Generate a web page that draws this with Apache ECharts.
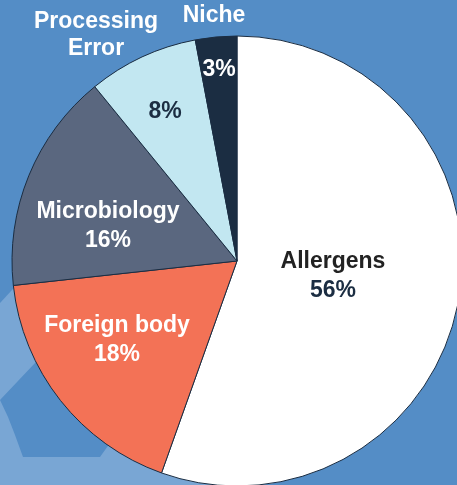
<!DOCTYPE html>
<html>
<head>
<meta charset="utf-8">
<script src="https://cdn.jsdelivr.net/npm/echarts@6/dist/echarts.min.js"></script>
<style>
  html, body { margin: 0; padding: 0; background: #548dc6; }
  #chart { width: 457px; height: 485px; }
</style>
</head>
<body>
<div id="chart"></div>
<script>
  // 数据
  var categories = ['Allergens', 'Foreign body', 'Microbiology', 'Processing Error', 'Niche'];
  var values = [56, 18, 16, 8, 3];
  var colors = ['#ffffff', '#f37256', '#5a677f', '#c2e7f1', '#1b2d42'];
  var textColors = ['#1b2d42', '#ffffff', '#ffffff', '#1b2d42', '#ffffff'];
  // 名称放在扇区外的类别
  var outsideNames = ['Processing Error', 'Niche'];

  // 标签位置（像素）
  var insidePos = [[333, 276], [117, 340], [108, 226], [165, 112], [219, 70]];
  var outsidePos = {'Processing Error': [96, 35], 'Niche': [214, 16]};

  var insideData = categories.map(function (c, i) {
    var pct = values[i] + '%';
    return {
      name: c,
      value: values[i],
      itemStyle: {color: colors[i]},
      label: {
        color: textColors[i],
        formatter: outsideNames.indexOf(c) >= 0 ? pct : (c === 'Allergens' ? '{n|' + c + '}\n' + pct : c + '\n' + pct),
        rich: {n: {color: '#222222', fontSize: 23, fontWeight: 'bold', lineHeight: 29, fontFamily: 'Liberation Sans'}}
      }
    };
  });

  var outsideData = categories.map(function (c, i) {
    return {
      name: c,
      value: values[i],
      label: {show: outsideNames.indexOf(c) >= 0}
    };
  });

  var chart = echarts.init(document.getElementById('chart'));
  var option = {
    backgroundColor: '#548dc6',
    animation: false,
    // 左下角背景装饰
    graphic: [
      {
        type: 'polygon', z: -10, silent: true,
        shape: {points: [[0, 303], [95, 200], [240, 300], [262, 485], [0, 485]]},
        style: {fill: '#79a6d4'}
      },
      {
        type: 'polygon', z: -9, silent: true,
        shape: {points: [[0, 400], [35, 363], [90, 305], [140, 330], [110, 443], [100, 457], [23, 457], [15, 435], [8, 417]]},
        style: {fill: '#548dc6'}
      }
    ],
    series: [
      {
        type: 'pie',
        center: [237, 261],
        radius: 225,
        startAngle: 90,
        clockwise: true,
        data: insideData,
        itemStyle: {borderColor: '#1b2d42', borderWidth: 1},
        label: {
          show: true,
          position: 'inside',
          fontSize: 23,
          fontWeight: 'bold',
          lineHeight: 29,
          fontFamily: 'Liberation Sans',
          align: 'center',
          verticalAlign: 'middle'
        },
        labelLine: {show: false},
        labelLayout: function (p) {
          var pos = insidePos[p.dataIndex];
          return {x: pos[0], y: pos[1], align: 'center', verticalAlign: 'middle'};
        },
        emphasis: {disabled: true}
      },
      {
        type: 'pie',
        center: [237, 261],
        radius: 225,
        startAngle: 90,
        clockwise: true,
        silent: true,
        data: outsideData,
        itemStyle: {color: 'rgba(0,0,0,0)'},
        label: {
          position: 'inside',
          formatter: function (p) { return p.name.replace(' ', '\n'); },
          color: '#ffffff',
          fontSize: 23,
          fontWeight: 'bold',
          lineHeight: 27,
          fontFamily: 'Liberation Sans'
        },
        labelLine: {show: false},
        labelLayout: function (p) {
          var pos = outsidePos[categories[p.dataIndex]] || [0, 0];
          return {x: pos[0], y: pos[1], align: 'center', verticalAlign: 'middle'};
        },
        emphasis: {disabled: true}
      }
    ]
  };
  chart.setOption(option);
</script>
</body>
</html>
